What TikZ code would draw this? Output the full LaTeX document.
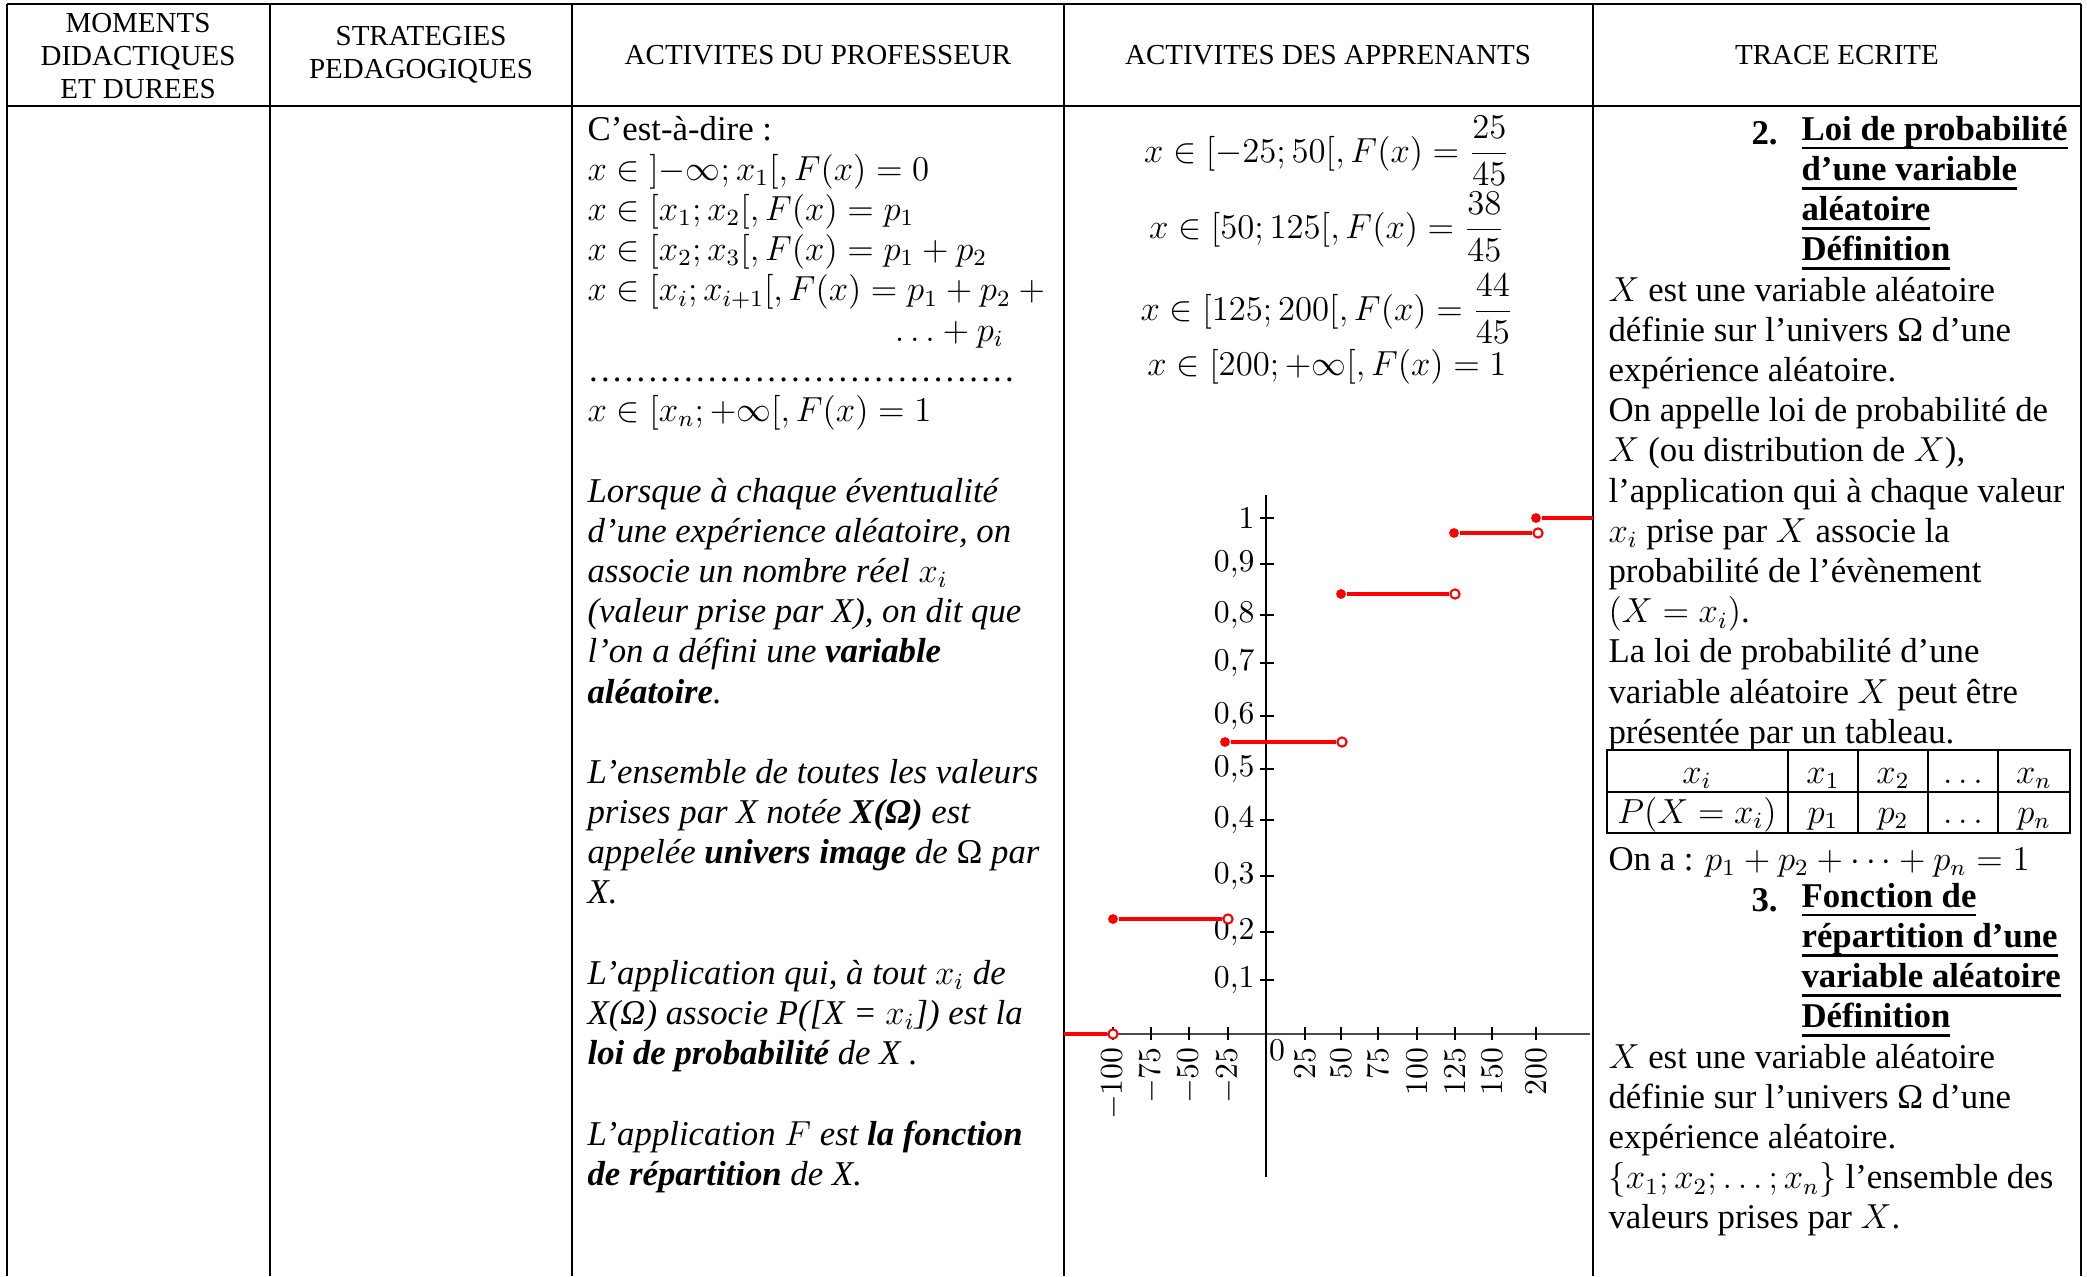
\documentclass[tikz,border=0pt]{standalone}
\usepackage{fontspec}
\setmainfont{Liberation Serif}
\usepackage{amsmath}
\usepackage{tikz}
\usetikzlibrary{positioning}

\newcommand{\txtfont}{\fontsize{12}{13.87}\selectfont}
\newcommand{\hdfont}{\fontsize{10}{11.5}\selectfont}
\newcommand{\tkfont}{\fontsize{10.5}{12}\selectfont}
% underlined heading line
\newcommand{\ulhd}[1]{\setbox0\hbox{#1}\rlap{\rule[-3.2pt]{\wd0}{0.9pt}}\box0}
\newcommand{\dotrow}{\hbox to 150pt{\leaders\hbox to 4.1pt{\hss.\hss}\hfill}}

\begin{document}
\begin{tikzpicture}[
    x=0.345pt, y=-0.345pt,
    frame/.style={line width=0.8pt},
    head/.style={align=center, font=\hdfont, inner sep=0pt},
    txt/.style={anchor=north west, inner sep=0pt, align=left, yshift=7.8pt, font=\txtfont, execute at begin node=\strut},
    itxt/.style={txt, font=\txtfont\itshape},
    hd/.style={txt, font=\txtfont\bfseries},
    eq/.style={anchor=base, inner sep=0pt, font=\txtfont},
    tick/.style={line width=1pt},
    ylab/.style={anchor=east, inner sep=1pt, font=\tkfont},
    xlab/.style={anchor=east, rotate=90, inner sep=1pt, font=\tkfont},
    seg/.style={red, line width=1.1pt},
    fdot/.style={circle, fill=red, inner sep=0pt, minimum size=3.4pt},
    odot/.style={circle, draw=red, fill=white, line width=0.7pt, inner sep=0pt, minimum size=3.2pt}
]
    \useasboundingbox (0,0) rectangle (2087,1276);

    % table frame
    \draw[frame] (7,4) -- (2081,4);
    \draw[frame] (7,106) -- (2081,106);
    \foreach \x in {7,270,572,1064,1593,2081}
        \draw[frame] (\x,4) -- (\x,1276);

    % header
    \node[head] (hmom) at (138,56) {MOMENTS\\DIDACTIQUES\\ET DUREES};
    \node[head] (hstrat) at (421,55) {STRATEGIES\\PEDAGOGIQUES};
    \node[head] (hprof) at (818,55) {ACTIVITES DU PROFESSEUR};
    \node[head] (happ) at (1328,55) {ACTIVITES DES APPRENANTS};
    \node[head] (htrace) at (1837,55) {TRACE ECRITE};

    % activites du professeur
    \node[txt] (cdire) at (587,138) {C'est-à-dire :\\
        $x\in\mathopen{]}-\infty;x_1\mathclose{[},F(x)=0$\\
        $x\in[x_1;x_2\mathclose{[},F(x)=p_1$\\
        $x\in[x_2;x_3\mathclose{[},F(x)=p_1+p_2$\\
        $x\in[x_i;x_{i+1}\mathclose{[},F(x)=p_1+p_2+{}$\\
        \hspace*{106pt}$\ldots+p_i$\\
        \dotrow\\
        $x\in[x_n;+\infty\mathclose{[},F(x)=1$};
    \node[itxt] (lorsque) at (587,500) {Lorsque à chaque éventualité\\
        d'une expérience aléatoire, on\\
        associe un nombre réel $x_i$\\
        (valeur prise par X), on dit que\\
        l'on a défini une \textbf{variable}\\
        \textbf{aléatoire}.};
    \node[itxt] (ensemble) at (587,781) {L'ensemble de toutes les valeurs\\
        prises par X notée \textbf{X(Ω)} est\\
        appelée \textbf{univers image} de \textup{Ω} par\\
        X.};
    \node[itxt] (appl) at (587,982) {L'application qui, à tout $x_i$ de\\
        X(Ω) associe P([X = $x_i$]) est la\\
        \textbf{loi de probabilité} de X .};
    \node[itxt] (applF) at (587,1143) {L'application $F$ est \textbf{la fonction}\\
        \textbf{de répartition} de X.};

    % activites des apprenants
    \node[eq] (eqa) at (1327,162) {$x\in[-25;50\mathclose{[},F(x)=\dfrac{25}{45}$};
    \node[eq] (eqb) at (1327,238) {$x\in[50;125\mathclose{[},F(x)=\dfrac{38}{45}$};
    \node[eq] (eqc) at (1327,320) {$x\in[125;200\mathclose{[},F(x)=\dfrac{44}{45}$};
    \node[eq] (eqd) at (1327,375) {$x\in[200;+\infty\mathclose{[},F(x)=1$};

    % graphe de F
    \draw[gray!60!black, line width=0.5pt] (1064,1034) -- (1590,1034);
    \draw[line width=0.4pt] (1266,495) -- (1266,1177);
    \foreach \y/\lab [count=\i] in {980/0{,}1, 932/0{,}2, 876/0{,}3, 820/0{,}4, 769/0{,}5,
                                    716/0{,}6, 663/0{,}7, 615/0{,}8, 564/0{,}9, 518/1} {
        \draw[tick] (1260,\y) -- (1274,\y);
        \node[ylab] (yl\i) at (1258,\y) {$\lab$};
    }
    \foreach \x/\lab [count=\i] in {1113/-100, 1151/-75, 1189/-50, 1228/-25, 1305/25, 1341/50,
                                    1378/75, 1417/100, 1455/125, 1492/150, 1536/200} {
        \draw[tick] (\x,1027) -- (\x,1040);
        \node[xlab] (xl\i) at (\x,1044) {$\lab$};
    }
    \draw[tick] (1266,1028) -- (1266,1043);
    \node[font=\tkfont, inner sep=0pt] (zero) at (1277,1050) {$0$};

    \coordinate (lend) at (1064,1034);
    \node[odot] (o0) at (1113,1034) {};
    \draw[seg] (lend) -- (o0);
    \foreach \xa/\xb/\y [count=\i] in {1113/1228/919, 1225/1342/742, 1341/1455/594, 1454/1538/533} {
        \node[fdot] (f\i) at (\xa,\y) {};
        \node[odot] (o\i) at (\xb,\y) {};
        \draw[seg] (f\i) -- (o\i);
    }
    \node[fdot] (f5) at (1536,518) {};
    \coordinate (rend) at (1593,518);
    \draw[seg] (f5) -- (rend);

    % trace ecrite
    \node[hd] (num2) at (1751,138) {2.};
    \node[hd] (loi) at (1801,138) {\ulhd{Loi de probabilité}\\
        \ulhd{d'une variable}\\
        \ulhd{aléatoire}\\
        \ulhd{Définition}};
    \node[txt] (defloi) at (1608,299) {$X$ est une variable aléatoire\\
        définie sur l'univers Ω d'une\\
        expérience aléatoire.\\
        On appelle loi de probabilité de\\
        $X$ (ou distribution de $X$),\\
        l'application qui à chaque valeur\\
        $x_i$ prise par $X$ associe la\\
        probabilité de l'évènement\\
        $(X=x_i)$.\\
        La loi de probabilité d'une\\
        variable aléatoire $X$ peut être\\
        présentée par un tableau.};

    \draw[line width=0.7pt] (1607,750) rectangle (2070,833);
    \draw[line width=0.7pt] (1607,792) -- (2070,792);
    \foreach \x in {1788,1858,1928,1998}
        \draw[line width=0.7pt] (\x,750) -- (\x,833);
    \foreach \cx/\a/\b [count=\i] in {1697/x_i/P(X=x_i), 1823/x_1/p_1, 1893/x_2/p_2,
                                      1963/\ldots/\ldots, 2034/x_n/p_n} {
        \node[eq] (ta\i) at (\cx,783) {$\a$};
        \node[eq] (tb\i) at (\cx,823) {$\b$};
    }

    \node[txt] (ona) at (1608,864) {On a : $p_1+p_2+\cdots+p_n=1$};
    \node[hd] (num3) at (1751,905) {3.};
    \node[hd] (fonc) at (1801,905) {\ulhd{Fonction de}\\
        \ulhd{répartition d'une}\\
        \ulhd{variable aléatoire}\\
        \ulhd{Définition}};
    \node[txt] (defrep) at (1608,1066) {$X$ est une variable aléatoire\\
        définie sur l'univers Ω d'une\\
        expérience aléatoire.\\
        $\{x_1;x_2;\ldots;x_n\}$ l'ensemble des\\
        valeurs prises par $X$.};
\end{tikzpicture}
\end{document}
